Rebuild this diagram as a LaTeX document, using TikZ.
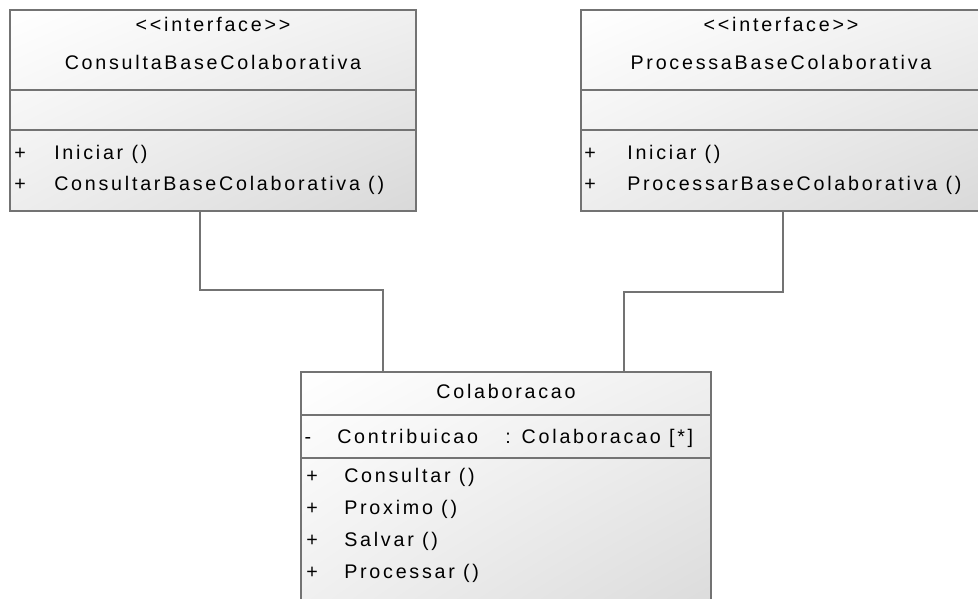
\documentclass[tikz,border=0pt]{standalone}
\usepackage{fontspec}
\newfontfamily\umlfont[LetterSpace=14]{Liberation Sans}
\usepackage{tikz}
\usetikzlibrary{shadings}

\begin{document}
\begin{tikzpicture}[
x=0.025cm, y=-0.025cm,
font=\umlfont\fontsize{14}{16}\selectfont,
every node/.style={inner sep=0pt, text height=10pt, text depth=3pt},
classbox/.style={draw=gray!90!black, line width=1.1pt, shade, upper left=white, upper right=gray!12, lower left=gray!14, lower right=gray!30, text height=, text depth=},
sep/.style={draw=gray!90!black, line width=1.1pt},
assoc/.style={draw=gray!90!black, line width=1.1pt},
member/.style={anchor=west},
scale=1]
    % Frame
    \useasboundingbox (0,0) rectangle (978,598);
    \clip (0,0) rectangle (978,598);

    % Class boxes
    \node[classbox, minimum width=10.15cm, minimum height=5.025cm] (consulta) at (213,110.5) {};
    \node[classbox, minimum width=10.15cm, minimum height=5.025cm] (processa) at (784,110.5) {};
    \node[classbox, minimum width=10.25cm, minimum height=6.7cm] (colab) at (506,506) {};

    % Compartments
    \draw[sep] (consulta.west |- 0,90) -- (consulta.east |- 0,90);
    \draw[sep] (consulta.west |- 0,130) -- (consulta.east |- 0,130);
    \draw[sep] (processa.west |- 0,90) -- (processa.east |- 0,90);
    \draw[sep] (processa.west |- 0,130) -- (processa.east |- 0,130);
    \draw[sep] (colab.west |- 0,415) -- (colab.east |- 0,415);
    \draw[sep] (colab.west |- 0,458) -- (colab.east |- 0,458);

    % ConsultaBaseColaborativa
    \node (cstereo) at (213,27) {\textless\textless interface\textgreater\textgreater};
    \node (cname) at (213,65) {ConsultaBaseColaborativa};
    \node (cplus1) at (20,155) {+};
    \node[member] (cop1) at (54,155) {Iniciar ()};
    \node (cplus2) at (20,186) {+};
    \node[member] (cop2) at (54,186) {ConsultarBaseColaborativa ()};

    % ProcessaBaseColaborativa
    \node (pstereo) at (781,27) {\textless\textless interface\textgreater\textgreater};
    \node (pname) at (781,65) {ProcessaBaseColaborativa};
    \node (pplus1) at (590,155) {+};
    \node[member] (pop1) at (627,155) {Iniciar ()};
    \node (pplus2) at (590,186) {+};
    \node[member] (pop2) at (627,186) {ProcessarBaseColaborativa ()};

    % Colaboracao
    \node (kname) at (506,394) {Colaboracao};
    \node (kminus) at (308,439) {-};
    \node[member] (kattr) at (337,439) {Contribuicao};
    \node[member] (ktype) at (505,439) {: Colaboracao [*]};
    \node (kplus1) at (312,478) {+};
    \node[member] (kop1) at (344,478) {Consultar ()};
    \node (kplus2) at (312,510) {+};
    \node[member] (kop2) at (344,510) {Proximo ()};
    \node (kplus3) at (312,542) {+};
    \node[member] (kop3) at (344,542) {Salvar ()};
    \node (kplus4) at (312,574) {+};
    \node[member] (kop4) at (344,574) {Processar ()};

    % Associations
    \draw[assoc] ([xshift=-0.325cm]consulta.south) -- ++(0,78) -| ([xshift=-3.075cm]colab.north);
    \draw[assoc] ([xshift=-0.025cm]processa.south) -- ++(0,80) -| ([xshift=2.95cm]colab.north);

\end{tikzpicture}
\end{document}
